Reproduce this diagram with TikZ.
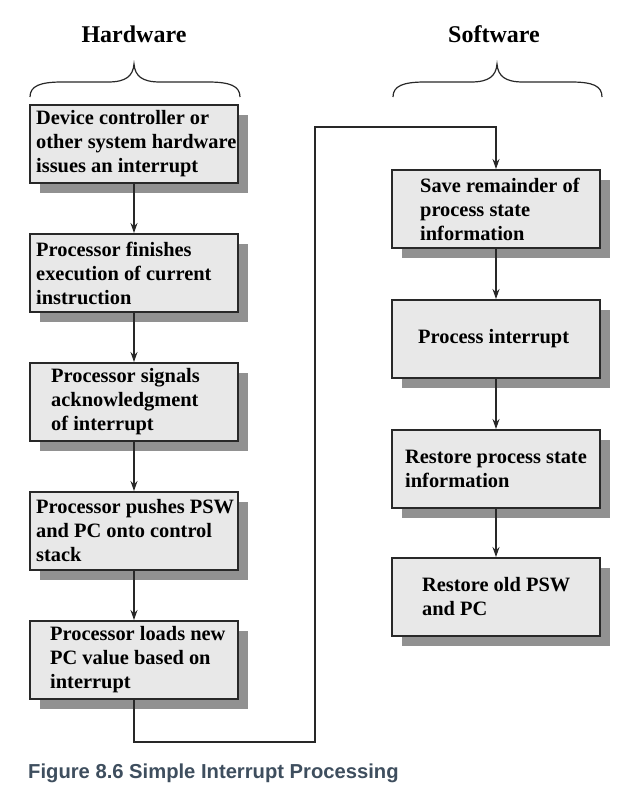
\documentclass[tikz,border=0pt]{standalone}
\usepackage{fontspec}
\setmainfont{Liberation Serif}
\newfontfamily\capfont{Liberation Sans}
\usetikzlibrary{arrows.meta,shadows}
\definecolor{boxfill}{RGB}{232,232,232}
\definecolor{boxline}{RGB}{40,40,40}
\definecolor{shadowgray}{RGB}{145,145,145}
\definecolor{capcol}{RGB}{62,78,94}
\tikzset{
  stepbox/.style={draw=boxline, line width=2pt, fill=boxfill, minimum width=208pt, minimum height=78pt, inner sep=0pt,
    drop shadow={shadow xshift=10pt, shadow yshift=-10pt, fill=shadowgray, opacity=1}},
  txt/.style={anchor=west, align=left, inner sep=0pt, font=\fontsize{20.4}{24}\selectfont\bfseries},
  head/.style={font=\fontsize{24}{28}\selectfont\bfseries},
  arr/.style={line width=1.1pt, draw=boxline, -{Stealth[length=10pt,width=7pt]}},
  brace/.style={line width=1.2pt, draw=boxline}
}
\begin{document}
\begin{tikzpicture}[x=1pt,y=-1pt]
\useasboundingbox (0,0) rectangle (644,798);
% headings
\node[head] (hw) at (134,34) {Hardware};
\node[head] (sw) at (494,34) {Software};
% braces
\draw[brace] (30,97) .. controls (30,86) and (40,82) .. (62,82) -- (108,82) .. controls (126,82) and (133,76) .. (134,64)
  .. controls (135,76) and (142,82) .. (160,82) -- (208,82) .. controls (230,82) and (240,86) .. (240,97);
\draw[brace] (393,97) .. controls (393,86) and (403,82) .. (425,82) -- (471,82) .. controls (489,82) and (496,76) .. (497,64)
  .. controls (498,76) and (505,82) .. (523,82) -- (571,82) .. controls (593,82) and (602,86) .. (602,97);
% left boxes
\node[stepbox] (b1) at (134,144) {};
\node[stepbox] (b2) at (134,273) {};
\node[stepbox] (b3) at (134,402) {};
\node[stepbox] (b4) at (134,531) {};
\node[stepbox] (b5) at (134,660) {};
\node[txt] (t1) at ([xshift=7pt]b1.west) {Device controller or\\other system hardware\\issues an interrupt};
\node[txt] (t2) at ([xshift=7pt]b2.west) {Processor finishes\\execution of current\\instruction};
\node[txt] (t3) at ([xshift=22pt]b3.west) {Processor signals\\acknowledgment\\of interrupt};
\node[txt] (t4) at ([xshift=7pt]b4.west) {Processor pushes PSW\\and PC onto control\\stack};
\node[txt] (t5) at ([xshift=21pt]b5.west) {Processor loads new\\PC value based on\\interrupt};
% right boxes
\node[stepbox] (r1) at (496,209) {};
\node[stepbox] (r2) at (496,339) {};
\node[stepbox] (r3) at (496,469) {};
\node[stepbox] (r4) at (496,597) {};
\node[txt] (u1) at ([xshift=29pt]r1.west) {Save remainder of\\process state\\information};
\node[txt] (u2) at ([xshift=27pt]r2.west) {Process interrupt};
\node[txt] (u3) at ([xshift=14pt]r3.west) {Restore process state\\information};
\node[txt] (u4) at ([xshift=31pt]r4.west) {Restore old PSW\\and PC};
% connectors
\draw[arr] (b1) -- (b2);
\draw[arr] (b2) -- (b3);
\draw[arr] (b3) -- (b4);
\draw[arr] (b4) -- (b5);
\coordinate (low) at (134,742);
\coordinate (high) at (315,127);
\draw[arr] (b5.south) -- (low) -| (high) -| (r1.north);
\draw[arr] (r1) -- (r2);
\draw[arr] (r2) -- (r3);
\draw[arr] (r3) -- (r4);
% caption
\node[anchor=west, inner sep=0pt, text=capcol, font=\capfont\fontsize{20.2}{24}\selectfont\bfseries] (cap) at (28,773) {Figure 8.6 Simple Interrupt Processing};
\end{tikzpicture}
\end{document}
